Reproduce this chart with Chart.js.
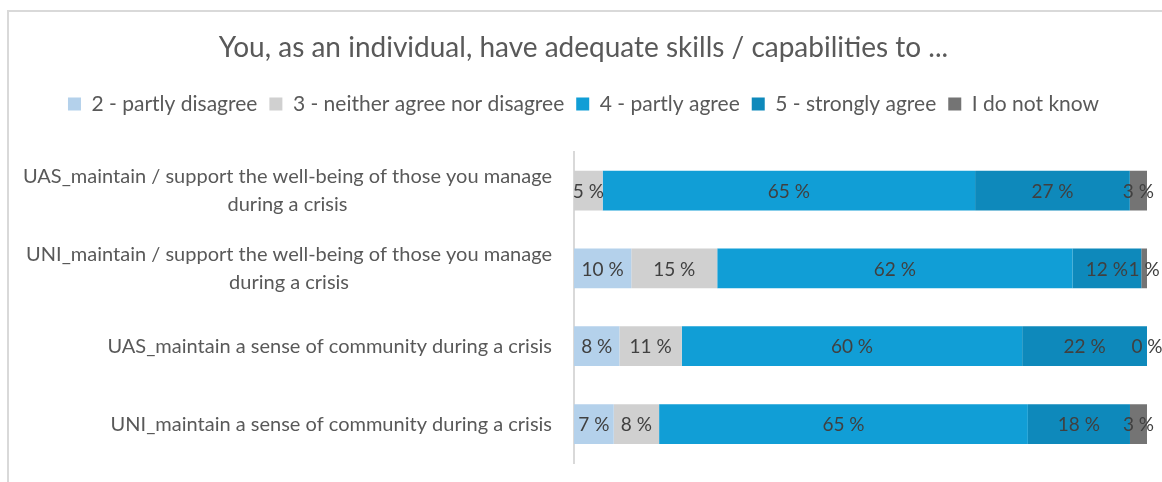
<!DOCTYPE html>
<html lang="en">

<head>
    <meta charset="UTF-8">
    <title>Skills / capabilities survey</title>
    <style>
        html, body { margin: 0; padding: 0; background: #fff; }
        .wrap { position: relative; width: 1162px; height: 482px; overflow: hidden; }
        .frame {
            position: absolute; left: 7px; top: 10px; right: -10px; bottom: -10px;
            border-left: 2px solid #d9d9d9; border-top: 2px solid #d9d9d9;
        }
        #skillsChart { position: absolute; left: 0; top: 0; }
    </style>
</head>

<body>
    <div class="wrap">
        <div class="frame"></div>
        <canvas id="skillsChart" width="1162" height="482"></canvas>
    </div>

    <script src="https://cdn.jsdelivr.net/npm/chart.js@4.4.1/dist/chart.umd.min.js"></script>
    <script>
        // survey items, top to bottom
        var categories = [
            ['UAS_maintain / support the well-being of those you manage', 'during a crisis'],
            ['UNI_maintain / support the well-being of those you manage', 'during a crisis'],
            ['UAS_maintain a sense of community during a crisis'],
            ['UNI_maintain a sense of community during a crisis']
        ];

        var seriesNames = ['2 - partly disagree', '3 - neither agree nor disagree', '4 - partly agree', '5 - strongly agree', 'I do not know'];

        // answer shares in percent (null = no answers, no label)
        var partlyDisagree = [null, 10, 8, 7];
        var neither = [5, 15, 11, 8];
        var partlyAgree = [65, 62, 60, 65];
        var stronglyAgree = [27, 12, 22, 18];
        var doNotKnow = [3, 1, 0, 3];

        var seriesColors = ['#b4d1eb', '#d0d0d0', '#119ed6', '#0e89bb', '#747474'];

        var allSeries = [partlyDisagree, neither, partlyAgree, stronglyAgree, doNotKnow];

        // rounded shares don't always add up to 100, so scale each row like a 100% stacked bar
        var rowTotals = categories.map(function(c, i) {
            return allSeries.reduce(function(sum, s) { return sum + (s[i] || 0); }, 0);
        });

        var datasets = allSeries.map(function(values, k) {
            return {
                label: seriesNames[k],
                data: values.map(function(v, i) { return v === null ? null : v / rowTotals[i] * 100; }),
                shown: values,
                backgroundColor: seriesColors[k],
                borderWidth: 0,
                barPercentage: 0.51,
                categoryPercentage: 1
            };
        });

        var textFont = 'Lato, "Open Sans", sans-serif';

        // value labels in the middle of each segment
        var valueLabels = {
            id: 'valueLabels',
            afterDatasetsDraw: function(chart) {
                var ctx = chart.ctx;
                ctx.save();
                ctx.font = '19px ' + textFont;
                ctx.fillStyle = '#404040';
                ctx.textAlign = 'center';
                ctx.textBaseline = 'middle';
                chart.data.datasets.forEach(function(ds, k) {
                    var meta = chart.getDatasetMeta(k);
                    meta.data.forEach(function(bar, i) {
                        var v = ds.shown[i];
                        if (v === null) return;
                        var cx = (bar.x + bar.base) / 2;
                        ctx.fillText(v + ' %', cx, bar.y + 1);
                    });
                });
                ctx.restore();
            }
        };

        // category names: each line centred inside a block that is right-aligned to the axis
        var categoryLabels = {
            id: 'categoryLabels',
            afterDraw: function(chart) {
                var ctx = chart.ctx;
                var yScale = chart.scales.y;
                var right = chart.chartArea.left - 22;
                var lineHeight = 28;
                ctx.save();
                ctx.font = '20px ' + textFont;
                ctx.fillStyle = '#595959';
                ctx.textAlign = 'center';
                ctx.textBaseline = 'middle';
                categories.forEach(function(lines, i) {
                    var blockWidth = Math.max.apply(null, lines.map(function(l) { return ctx.measureText(l).width; }));
                    var cx = right - blockWidth / 2;
                    var y0 = yScale.getPixelForTick(i) - (lines.length - 1) * lineHeight / 2;
                    lines.forEach(function(line, j) {
                        ctx.fillText(line, cx, y0 + j * lineHeight);
                    });
                });
                ctx.restore();
            }
        };

        // extra room between the legend and the bars
        var legendGap = {
            id: 'legendGap',
            beforeInit: function(chart) {
                var origFit = chart.legend.fit;
                chart.legend.fit = function() {
                    origFit.call(this);
                    this.height += 27;
                };
            }
        };

        var ctx = document.getElementById('skillsChart').getContext('2d');
        var skillsChart = new Chart(ctx, {
            type: 'bar',
            data: {
                labels: categories,
                datasets: datasets
            },
            options: {
                indexAxis: 'y',
                responsive: false,
                animation: false,
                layout: {
                    padding: { left: 20, right: 15, bottom: 19, top: 0 }
                },
                scales: {
                    x: {
                        stacked: true,
                        min: 0,
                        max: 100,
                        display: false
                    },
                    y: {
                        stacked: true,
                        ticks: { display: false },
                        grid: { display: false },
                        border: { display: true, color: '#d9d9d9', width: 2 },
                        afterFit: function(axis) { axis.width = 554; }
                    }
                },
                plugins: {
                    title: {
                        display: true,
                        text: 'You, as an individual, have adequate skills / capabilities to ...',
                        color: '#595959',
                        font: { family: textFont, size: 28, weight: 'normal' },
                        padding: { top: 31, bottom: 17 }
                    },
                    legend: {
                        display: true,
                        position: 'top',
                        labels: {
                            color: '#595959',
                            font: { family: textFont, size: 21 },
                            boxWidth: 13,
                            boxHeight: 13,
                            padding: 12
                        }
                    },
                    tooltip: { enabled: false }
                }
            },
            plugins: [valueLabels, categoryLabels, legendGap]
        });
    </script>
</body>

</html>
